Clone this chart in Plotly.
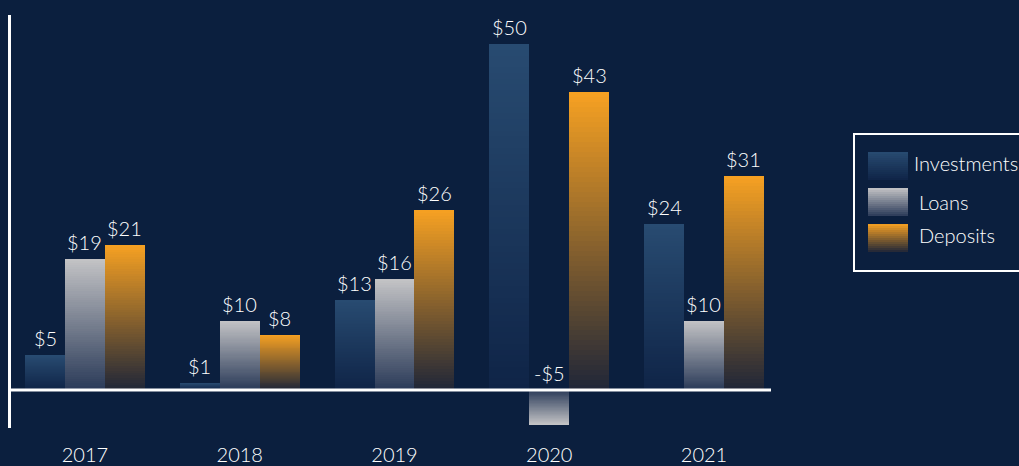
import plotly.graph_objects as go

# ---- data ----
years = ["2017", "2018", "2019", "2020", "2021"]
series_names = ["Investments", "Loans", "Deposits"]
investments = [5, 1, 13, 50, 24]
loans = [19, 10, 16, -5, 10]
deposits = [21, 8, 26, 43, 31]
series_values = [investments, loans, deposits]

# ---- style ----
top_colors = ["#284b71", "#c4c4c6", "#f7a122"]
bottom_colors = ["#0f2447", "#2a3a58", "#1f2638"]
BG = "#0b1f3e"
TXT = "#ffffff"
FONT = "Lato"
WEIGHT = 300

W, H = 1019, 466
ML, MR, MT, MB = 11, 248, 15, 38
PW, PH = W - ML - MR, H - MT - MB

bar_w = 0.258
offsets = [-1.5 * bar_w, -0.5 * bar_w, 0.5 * bar_w]
steps = 60


def hex_to_rgb(h):
    h = h.lstrip("#")
    return tuple(int(h[i:i + 2], 16) for i in (0, 2, 4))


def lerp_color(c0, c1, t):
    a, b = hex_to_rgb(c0), hex_to_rgb(c1)
    r = [round(a[i] + (b[i] - a[i]) * t) for i in range(3)]
    return f"rgb({r[0]},{r[1]},{r[2]})"


def px_x(p):
    return (p - ML) / PW


def px_y(p):
    return (H - MB - p) / PH


fig = go.Figure()
xs = list(range(len(years)))

# gradient bars: overlaid layers, full height first (lightest), shorter layers darker
for s, vals in enumerate(series_values):
    for k in range(steps, 0, -1):
        f = k / steps
        col = lerp_color(bottom_colors[s], top_colors[s], (k - 0.5) / steps)
        fig.add_trace(go.Bar(
            x=xs, y=[v * f for v in vals], width=bar_w, offset=offsets[s],
            marker=dict(color=col, line=dict(width=0)),
            hoverinfo="skip", showlegend=False, name=series_names[s],
        ))

annotations = []
for s, vals in enumerate(series_values):
    for i, v in enumerate(vals):
        label = f"-${abs(v)}" if v < 0 else f"${v}"
        annotations.append(dict(
            x=i + offsets[s] + bar_w / 2, y=max(v, 0), xref="x", yref="y",
            text=label, showarrow=False, yanchor="bottom", yshift=3,
            font=dict(family=FONT, size=20, color=TXT, weight=WEIGHT),
        ))

shapes = [
    dict(type="line", xref="paper", yref="y", x0=0, x1=1, y0=0, y1=0,
         line=dict(color="white", width=3), layer="above"),
    dict(type="rect", xref="paper", yref="paper",
         x0=px_x(854), x1=px_x(1024), y0=px_y(271), y1=px_y(134),
         line=dict(color="white", width=2), fillcolor="rgba(0,0,0,0)"),
]

# manual legend
sw_tops = [152, 188, 224]
sw_h = 28
text_y = [163, 202, 235]
text_x = [912, 917, 917]
slices = 14
for s in range(3):
    for j in range(slices):
        y0p = sw_tops[s] + j * sw_h / slices
        y1p = y0p + sw_h / slices
        col = lerp_color(top_colors[s], bottom_colors[s], (j + 0.5) / slices)
        shapes.append(dict(type="rect", xref="paper", yref="paper",
                           x0=px_x(868), x1=px_x(908), y0=px_y(y1p), y1=px_y(y0p),
                           line=dict(width=0), fillcolor=col))
    annotations.append(dict(
        x=px_x(text_x[s]), y=px_y(text_y[s]), xref="paper", yref="paper",
        text=series_names[s], showarrow=False, xanchor="left", yanchor="middle",
        font=dict(family=FONT, size=20, color=TXT, weight=WEIGHT),
    ))

fig.update_layout(
    width=W, height=H, barmode="overlay", bargap=0,
    paper_bgcolor=BG, plot_bgcolor=BG,
    margin=dict(l=ML, r=MR, t=MT, b=MB, autoexpand=False),
    showlegend=False,
    font=dict(family=FONT, color=TXT),
    xaxis=dict(range=[-0.478, 4.433], tickvals=xs, ticktext=years,
               showgrid=False, zeroline=False, showline=False, ticks="",
               tickfont=dict(family=FONT, size=20, color=TXT, weight=WEIGHT),
               ticklabelstandoff=13, automargin=False, fixedrange=True),
    yaxis=dict(range=[-5.5, 54.2], showgrid=False, zeroline=False,
               showline=True, linecolor="white", linewidth=2.5,
               showticklabels=False, ticks="", automargin=False, fixedrange=True),
    shapes=shapes, annotations=annotations,
)

fig.write_html(
    "out.html",
    config={"displayModeBar": False},
    post_script="document.body.style.margin='0';document.body.style.padding='0';"
                "document.body.style.overflow='hidden';"
                "document.body.style.background='" + BG + "';",
)
